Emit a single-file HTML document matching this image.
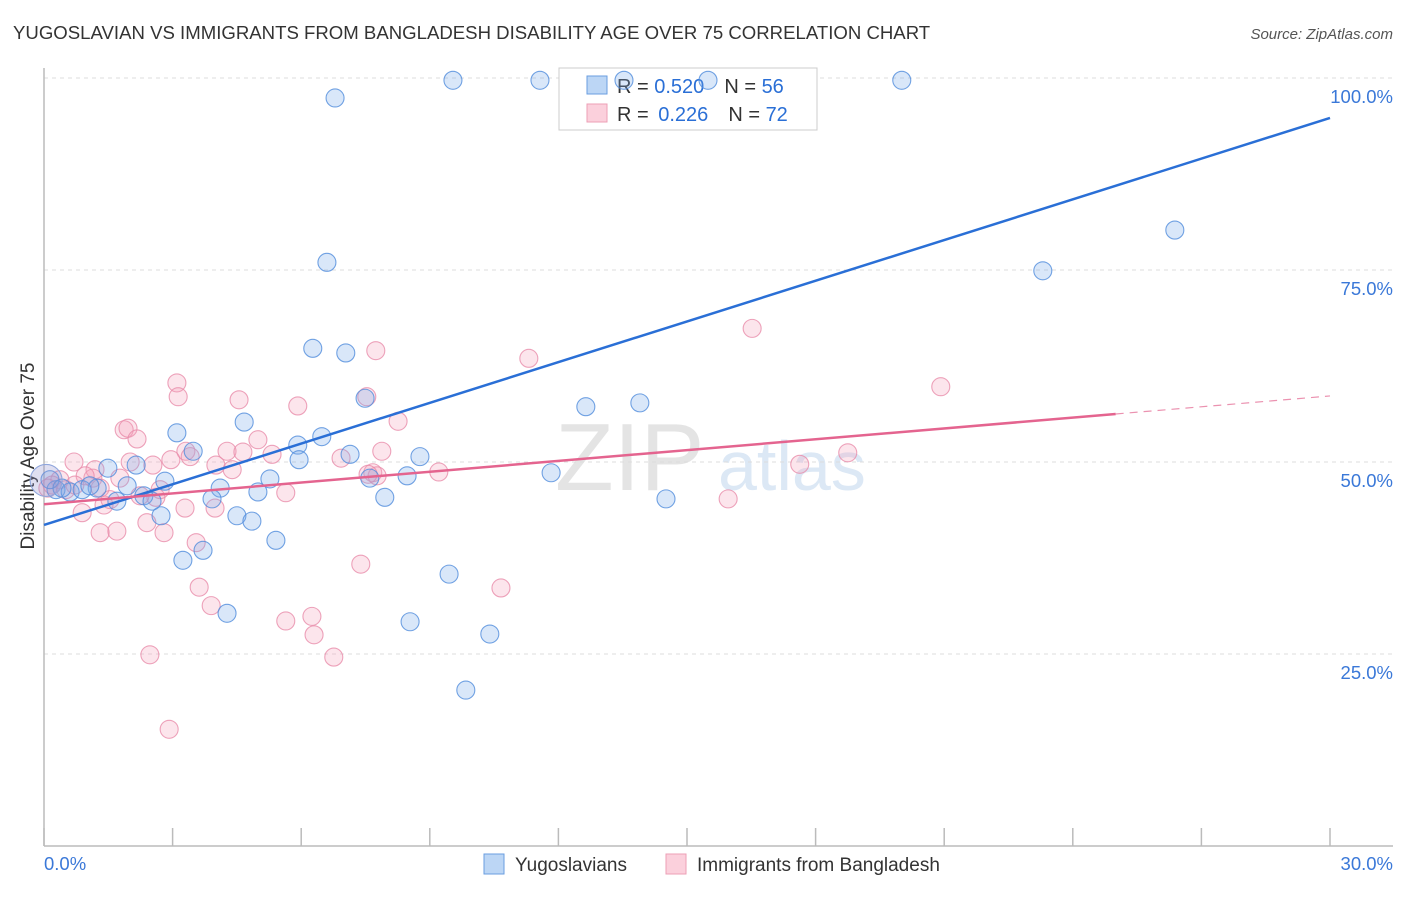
<!DOCTYPE html>
<html><head><meta charset="utf-8"><style>
body{margin:0;background:#fff;font-family:"Liberation Sans",sans-serif}
svg text{font-family:"Liberation Sans",sans-serif}
</style></head><body>
<svg id="chart" width="1406" height="892" viewBox="0 0 1406 892">
<text x="13" y="39" font-size="18.6" fill="#333">YUGOSLAVIAN VS IMMIGRANTS FROM BANGLADESH DISABILITY AGE OVER 75 CORRELATION CHART</text>
<text x="1393" y="39" font-size="15" fill="#555" font-style="italic" text-anchor="end">Source: ZipAtlas.com</text>
<text x="555" y="490" font-size="96" fill="#e4e4e4" font-family="Liberation Serif">ZIP</text>
<text x="718" y="490" font-size="70" fill="#dce8f5">atlas</text>
<g id="grid"></g>
<line x1="44" y1="68" x2="44" y2="846" stroke="#bbb" stroke-width="1.5"/>
<line x1="44" y1="846" x2="1393" y2="846" stroke="#bbb" stroke-width="1.5"/>
<g id="xticks"></g>
<text transform="translate(34,456) rotate(-90)" font-size="19" fill="#333" text-anchor="middle">Disability Age Over 75</text>
<g>
<rect x="559" y="68" width="258" height="62" fill="#fff" stroke="#ccc"/>
<rect x="587" y="76" width="20" height="18" fill="#bcd6f5" stroke="#6a9ee0"/>
<rect x="587" y="104" width="20" height="18" fill="#fbd0dc" stroke="#ec9fb6"/>
<text x="617" y="93" font-size="20" fill="#333">R = <tspan fill="#2a6fd6">0.520</tspan><tspan dx="20">N = </tspan><tspan fill="#2a6fd6">56</tspan></text>
<text x="617" y="121" font-size="20" fill="#333">R = <tspan fill="#2a6fd6" dx="4">0.226</tspan><tspan dx="20">N = </tspan><tspan fill="#2a6fd6">72</tspan></text>
</g>
<g id="pts"></g>
<g id="lines"></g>
<g>
<rect x="484" y="854" width="20" height="20" fill="#bcd6f5" stroke="#6a9ee0"/>
<text x="515" y="871" font-size="19" fill="#333">Yugoslavians</text>
<rect x="666" y="854" width="20" height="20" fill="#fbd0dc" stroke="#ec9fb6"/>
<text x="697" y="871" font-size="19" fill="#333">Immigrants from Bangladesh</text>
</g>
</svg>
<script>
const yTicks=[25,50,75,100];
const yTickLabels=["25.0%","50.0%","75.0%","100.0%"];
const xTickCount=10;
const xAxisLabels=["0.0%","30.0%"];
const blueX=[9.54,11.57,13.53,15.49,20.01,6.79,6.60,6.27,7.04,23.30,26.38,7.49,4.67,3.10,6.48,5.92,3.48,7.14,5.95,8.77,12.64,13.90,11.83,8.47,7.60,5.27,1.49,2.15,2.82,1.94,1.24,4.11,4.99,7.95,3.92,2.33,1.70,2.52,14.51,2.73,4.50,4.85,5.41,3.71,3.24,9.45,4.27,8.54,10.40,9.84,0.28,0.14,0.61,0.89,1.07,0.42];
const blueY=[99.7,99.7,99.7,99.7,99.7,97.4,76.0,64.8,64.2,74.9,80.2,58.3,55.2,53.8,53.3,52.2,51.4,51.0,50.3,50.7,57.2,57.7,48.6,48.2,47.9,47.8,49.2,49.6,47.5,46.9,46.6,46.6,46.1,45.4,45.2,45.6,44.9,44.9,45.2,43.0,43.0,42.3,39.8,38.5,37.2,35.4,30.3,29.2,27.6,20.3,46.4,47.7,46.1,46.4,46.9,46.6];
const pinkX=[2.92,2.47,6.76,6.30,6.25,5.64,3.90,3.62,3.55,7.39,10.66,16.52,20.92,11.31,7.74,3.10,3.13,7.53,4.55,5.92,8.26,1.87,1.96,2.17,4.27,4.64,4.99,5.32,7.88,3.31,3.41,2.96,2.54,2.01,0.70,1.19,4.01,4.39,6.93,7.67,9.21,7.77,7.56,17.63,18.75,5.64,3.99,3.29,2.61,2.24,0.89,1.40,1.31,1.70,2.40,2.80,15.96,1.14,1.31,0.96,0.37,0.19,0.09,0.51,0.72,1.54,2.71,1.77];
const pinkY=[15.2,24.9,24.6,27.5,29.9,29.3,31.3,33.7,39.5,36.7,33.6,67.4,59.8,63.5,64.5,60.3,58.5,58.5,58.1,57.3,55.3,54.2,54.4,53.0,51.4,51.3,52.9,51.0,51.4,51.4,50.7,50.3,49.6,50.0,50.0,49.0,49.6,49.0,50.5,48.6,48.7,48.2,48.4,49.7,51.2,46.0,44.0,44.0,45.4,45.6,43.4,44.4,40.8,41.0,42.1,40.8,45.2,47.9,46.6,48.2,47.7,47.0,46.6,46.4,47.0,45.1,46.4,47.9];
const blueTrend=[41.8,94.8];
const pinkTrend=[44.5,58.6];
const pinkSolidEnd=25;

const NS="http://www.w3.org/2000/svg";
const sx=v=>44+v*1286/30;
const sy=v=>846-v*7.68;
function mk(t,a,p){const e=document.createElementNS(NS,t);for(const k in a)e.setAttribute(k,a[k]);p.appendChild(e);return e;}
const grid=document.getElementById('grid');
yTicks.forEach((v,i)=>{
 const l=mk('line',{x1:44,x2:1393,y1:sy(v),y2:sy(v),stroke:'#ddd','stroke-dasharray':'4,4'},grid);
 
 
 const t=mk('text',{x:1393,y:sy(v)+25,'font-size':18.5,fill:'#3a78d8','text-anchor':'end'},grid);
 t.textContent=yTickLabels[i];
 
 
});
const xt=document.getElementById('xticks');
for(let i=0;i<=xTickCount;i++){
 const x=sx(i*3);
 const l=mk('line',{x1:x,x2:x,y1:828,y2:846,stroke:'#bbb','stroke-width':1.5},xt);
 
 
}
const xl0=mk('text',{x:44,y:870,'font-size':18.5,fill:'#3a78d8'},xt);xl0.textContent=xAxisLabels[0];


const xl1=mk('text',{x:1393,y:870,'font-size':18.5,fill:'#3a78d8','text-anchor':'end'},xt);xl1.textContent=xAxisLabels[1];


const pts=document.getElementById('pts');
pinkX.forEach((v,i)=>{
 const c=mk('circle',{cx:sx(v),cy:sy(pinkY[i]),r:9,fill:'rgba(245,160,185,0.28)',stroke:'rgba(232,140,170,0.8)','stroke-width':1.1},pts);
 
 
});
blueX.forEach((v,i)=>{
 const c=mk('circle',{cx:sx(v),cy:sy(blueY[i]),r:9,fill:'rgba(120,170,235,0.28)',stroke:'rgba(80,140,220,0.8)','stroke-width':1.1},pts);
 
 
});
const big=mk('circle',{cx:sx(0.05),cy:sy(47.6),r:16,fill:'rgba(150,150,210,0.3)',stroke:'#8fa6dc','stroke-width':1.1},pts);


const ln=document.getElementById('lines');
const bl=mk('line',{x1:sx(0),y1:sy(blueTrend[0]),x2:sx(30),y2:sy(blueTrend[1]),stroke:'#2a6fd6','stroke-width':2.5},ln);


const py=x=>pinkTrend[0]+(pinkTrend[1]-pinkTrend[0])*x/30;
const pl=mk('line',{x1:sx(0),y1:sy(py(0)),x2:sx(pinkSolidEnd),y2:sy(py(pinkSolidEnd)),stroke:'#e4648f','stroke-width':2.5},ln);


const pd=mk('line',{x1:sx(pinkSolidEnd),y1:sy(py(pinkSolidEnd)),x2:sx(30),y2:sy(py(30)),stroke:'#eb92b0','stroke-width':1.2,'stroke-dasharray':'8,6'},ln);


</script>
</body></html>
